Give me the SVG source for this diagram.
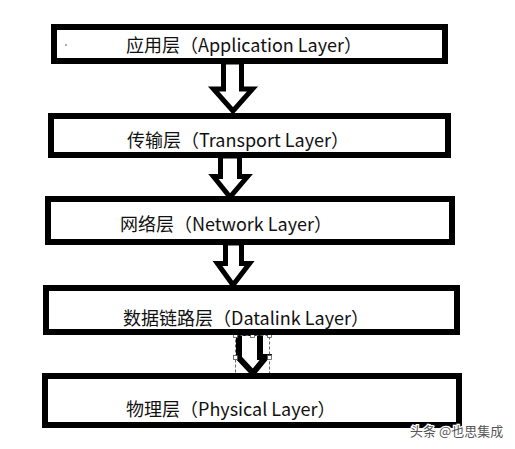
<svg xmlns="http://www.w3.org/2000/svg" width="515" height="449" viewBox="0 0 515 449">
<style>
.box{fill:#fff;stroke:#000;stroke-width:6}
.arr{fill:#fff;stroke:#000;stroke-width:5;stroke-linejoin:miter}
.lbl{font-family:"Microsoft YaHei","Noto Sans CJK SC","Noto Sans",sans-serif;font-size:18px;fill:#111}
.hdl{fill:#fff;stroke:#555;stroke-width:0.8}
.wm{font-family:"Noto Sans CJK SC",sans-serif;font-size:13px;fill:#555;stroke:#fff;stroke-width:2.5;paint-order:stroke}
</style>
<rect width="515" height="449" fill="#fff"/>
<g id="connectors">
<polygon class="arr" points="223.5,62 241.5,62 241.5,89 252.5,89 233,111 213.5,89 223.5,89"/>
<polygon class="arr" points="220.5,156 239.5,156 239.5,176.5 247.5,176.5 230,197 213.5,176.5 220.5,176.5"/>
<polygon class="arr" points="225.5,243 241.5,243 241.5,263.5 249.5,263.5 233,285 217.5,263.5 225.5,263.5"/>
<polygon class="arr" style="stroke-width:6" points="239,333 260,333 260,357 266,357 253,373 239,358"/>
<g id="selection">
<rect x="235.5" y="335.5" width="34" height="42" fill="none" stroke="#666" stroke-width="1" stroke-dasharray="3,2"/>
<rect class="hdl" x="233.5" y="333.5" width="4" height="4"/>
<rect class="hdl" x="250.5" y="333.5" width="4" height="4"/>
<rect class="hdl" x="267.5" y="333.5" width="4" height="4"/>
<rect class="hdl" x="233.5" y="355.5" width="4" height="4"/>
<rect class="hdl" x="267.5" y="355.5" width="4" height="4"/>
<rect class="hdl" x="233.5" y="375.5" width="4" height="4"/>
<rect class="hdl" x="250.5" y="375.5" width="4" height="4"/>
<rect class="hdl" x="267.5" y="375.5" width="4" height="4"/>
</g>
</g>
<g id="application">
<rect class="box" x="54" y="27" width="391" height="34"/>
<ellipse cx="66" cy="45" rx="1" ry="0.8" fill="#666"/>
<text class="lbl" x="126" y="52">应用层（Application Layer）</text>
</g>
<g id="transport">
<rect class="box" x="51" y="116" width="397" height="39"/>
<text class="lbl" x="127" y="147">传输层（Transport Layer）</text>
</g>
<g id="network">
<rect class="box" x="48" y="199" width="404" height="43"/>
<text class="lbl" x="120" y="231">网络层（Network Layer）</text>
</g>
<g id="datalink">
<rect class="box" x="46" y="288" width="411" height="44"/>
<text class="lbl" x="123" y="325">数据链路层（Datalink Layer）</text>
</g>
<g id="physical">
<rect class="box" x="45" y="376" width="414" height="49"/>
<text class="lbl" x="126" y="416">物理层（Physical Layer）</text>
</g>
<text class="wm" x="410" y="436">头条 @也思集成</text>
</svg>
